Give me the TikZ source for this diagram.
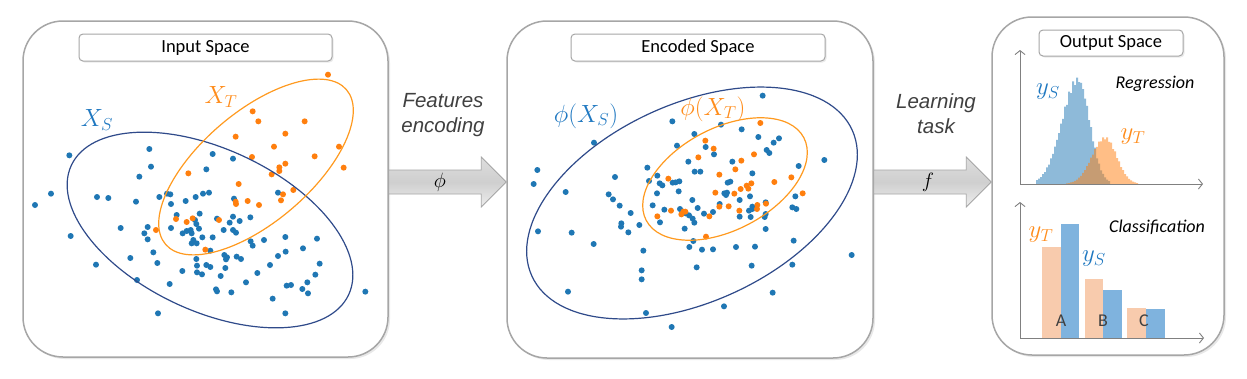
\documentclass[tikz,border=0pt]{standalone}
\usepackage{fontspec}
\setmainfont{Carlito}
\newfontfamily\arialf{Liberation Sans}
\usetikzlibrary{arrows.meta,calc}
\definecolor{dotblue}{HTML}{1F77B4}
\definecolor{dotorange}{HTML}{FF7F0E}
\definecolor{ellblue}{HTML}{2F4A8A}
\definecolor{ellorange}{HTML}{FF9A1F}
\definecolor{lblblue}{HTML}{1F78C1}
\definecolor{lblorange}{HTML}{FF8C1A}
\definecolor{barorange}{HTML}{F8CBAD}
\definecolor{barblue}{HTML}{7FB3DE}
\definecolor{panelgray}{HTML}{A6A6A6}
\definecolor{arrowfill}{HTML}{CFCFCF}
\definecolor{txtgray}{HTML}{404040}
\tikzset{
  panel/.style={draw=panelgray, line width=1.5pt, rounded corners=40pt, fill=white, inner sep=0pt},
  titlebox/.style={draw=panelgray, line width=1pt, rounded corners=4pt, fill=white, inner sep=0pt, font=\fontsize{18.5}{20}\selectfont},
  blockarrow/.style={draw=panelgray, line width=0.8pt, top color=arrowfill!70, bottom color=arrowfill!115!black, middle color=arrowfill},
  arrowlbl/.style={font=\arialf\itshape\fontsize{20.5}{25}\selectfont, text=txtgray, align=center},
  mathlbl/.style={font=\fontsize{25}{28}\selectfont},
  axisline/.style={draw=gray, line width=0.9pt, -{Straight Barb[length=4pt,width=10pt]}},
  tasklbl/.style={font=\itshape\fontsize{18}{20}\selectfont},
  barlbl/.style={font=\fontsize{18}{20}\selectfont, text=txtgray},
  ell/.style={line width=1.2pt}
}
\begin{document}
\begin{tikzpicture}[x=1pt,y=-1pt]
\useasboundingbox (0,0) rectangle (1247,378);
\fill[white] (0,0) rectangle (1247,378);
% panels (shadow + box)
\fill[black!9] (25,23) [rounded corners=40pt] rectangle (390,359);
\fill[black!9] (509,23) [rounded corners=40pt] rectangle (875,360);
\fill[black!9] (994,19) [rounded corners=40pt] rectangle (1226,357);
\node[panel, minimum width=365pt, minimum height=336pt] (p1) at (205.5,189) {};
\node[panel, minimum width=366pt, minimum height=337pt] (p2) at (690,189.5) {};
\node[panel, minimum width=232pt, minimum height=338pt] (p3) at (1108,186) {};
% titles
\fill[black!8] (80.5,35.5) [rounded corners=4pt] rectangle (333.5,62.5);
\fill[black!8] (572.5,35.5) [rounded corners=4pt] rectangle (826.5,62.5);
\fill[black!8] (1040.5,31.5) [rounded corners=4pt] rectangle (1184.5,57.5);
\node[titlebox, minimum width=253pt, minimum height=27pt] (t1) at (205.5,47.5) {Input Space};
\node[titlebox, minimum width=254pt, minimum height=27pt] (t2) at (698,47.5) {Encoded Space};
\node[titlebox, minimum width=144pt, minimum height=26pt] (t3) at (1111,43) {Output Space};
% block arrows
\coordinate (a1s) at (p1.east |- 0,182);
\coordinate (a1e) at (p2.west |- 0,182);
\coordinate (a2s) at (p2.east |- 0,182);
\coordinate (a2e) at (p3.west |- 0,182);
\draw[blockarrow] ($(a1s)+(0,-12)$) -- ($(a1e)+(-25,-12)$) -- ($(a1e)+(-25,-25)$) -- (a1e) -- ($(a1e)+(-25,25)$) -- ($(a1e)+(-25,12)$) -- ($(a1s)+(0,12)$) -- cycle;
\draw[blockarrow] ($(a2s)+(0,-12)$) -- ($(a2e)+(-25,-12)$) -- ($(a2e)+(-25,-25)$) -- (a2e) -- ($(a2e)+(-25,25)$) -- ($(a2e)+(-25,12)$) -- ($(a2s)+(0,12)$) -- cycle;
\node[font=\fontsize{20}{22}\selectfont] (phi) at (440,182) {$\phi$};
\node[font=\fontsize{20}{22}\selectfont] (fl) at (928,182) {$f$};
\node[arrowlbl] (fe) at (443,115) {Features\\encoding};
\node[arrowlbl] (lt) at (936,114) {Learning\\task};
% panel 1 dots
\begin{scope}[scale=1/3]
\foreach \x/\y in {208/466,448/447,638/462,699/476,453/500,418/530,619/508,153/581,105/615,291/591,325/594,408/605,478/591,501/581,511/583,513/612,557/603,587/591,609/581,627/578,702/596,834/578,530/645,599/641,585/660,589/672,572/690,548/700,560/693,575/700,597/686,651/656,689/668,699/650,719/663,751/652,671/690,699/690,708/698,362/684,443/681,433/700,443/718,513/684,580/720,575/730,590/730,607/712,638/712,212/708,460/757,391/774,472/789,288/794,631/752,673/765,681/772,678/778,710/770,723/777,752/724,758/737,792/720,856/711,857/755,834/768,909/745,951/716,589/777,591/797,619/795,631/801,676/804,547/813,591/817,606/823,662/828,411/840,509/852,738/847,772/819,810/795,959/791,946/824,922/847,648/868,651/874,694/877,860/857,873/855,907/867,924/880,818/896,1096/875,474/940,856/940}
  \fill[dotblue] (\x,\y) circle (9);
\foreach \x/\y in {984/224,758/334,775/364,914/364,707/410,856/401,822/440,1017/440,756/471,944/469,856/491,838/502,838/513,815/523,1031/503,565/520,716/552,880/570,849/583,843/601,707/605,743/603,708/612,777/615,528/657,560/666,578/655,657/660,468/690,616/749}
  \fill[dotorange] (\x,\y) circle (9);
\end{scope}
% panel 2 dots
\begin{scope}[xshift=500pt, scale=1/3]
\foreach \x/\y in {788/287,517/364,663/374,725/388,583/402,775/411,837/415,821/428,282/428,531/437,617/441,642/463,800/450,808/459,565/485,697/485,973/480,896/498,442/503,112/510,584/515,601/515,757/520,345/531,101/552,472/527,447/543,479/550,487/556,518/548,538/544,527/547,683/548,691/545,197/576,326/583,339/598,359/617,471/580,536/574,673/580,678/585,681/578,750/589,577/600,458/616,493/629,540/627,557/640,567/646,578/656,583/668,593/624,612/641,639/636,659/612,719/600,757/627,747/632,797/607,757/620,392/639,364/670,363/680,385/697,418/675,480/667,554/686,719/650,752/651,794/651,797/642,877/622,889/627,886/589,114/694,215/698,797/687,281/732,430/752,568/741,580/723,606/749,639/748,708/741,765/740,881/722,590/802,755/797,877/794,1055/765,425/811,425/838,204/875,818/878,438/939,672/919,515/981}
  \fill[dotblue] (\x,\y) circle (9);
\foreach \x/\y in {781/369,616/422,641/446,595/472,762/463,724/482,706/508,658/524,505/536,823/546,874/532,754/550,740/557,745/566,722/567,703/581,908/580,646/578,513/632,544/643,550/635,556/635,658/620,686/619,718/632,772/615,771/627,798/611,472/649,628/649,618/710}
  \fill[dotorange] (\x,\y) circle (9);
\end{scope}
% ellipses
\draw[ell, ellblue, rotate around={-25:(210,230)}] (210,230) ellipse [x radius=153pt, y radius=81pt];
\draw[ell, ellorange, rotate around={40.5:(256,167)}] (256,167) ellipse [x radius=119pt, y radius=55pt];
\draw[ell, ellblue, rotate around={24.5:(692,203)}] (692,203) ellipse [x radius=176pt, y radius=99pt];
\draw[ell, ellorange, rotate around={27.7:(725,179)}] (725,179) ellipse [x radius=89pt, y radius=51pt];
% labels
\node[mathlbl, text=lblblue] (xs) at (97,120) {$X_S$};
\node[mathlbl, text=lblorange] (xt) at (221,97) {$X_T$};
\node[mathlbl, text=lblblue] (pxs) at (586,116) {$\phi(X_S)$};
\node[mathlbl, text=lblorange] (pxt) at (713,109) {$\phi(X_T)$};
% output space: regression
\fill[dotblue, opacity=.5] (1036,184) -- plot[const plot, domain=1036:1110, samples=38] (\x,{184-104*exp(-((\x-1077)^2)/(2*((\x<1077)?16:11.5)^2))*(1+0.04*sin((\x-1030)*97))}) -- (1110,184) -- cycle;
\fill[dotorange, opacity=.5] (1066,184) -- plot[const plot, domain=1066:1138, samples=37] (\x,{184-46*exp(-((\x-1104)^2)/(2*((\x<1104)?13:11.5)^2))*(1+0.04*sin((\x-1060)*89))}) -- (1138,184) -- cycle;
\coordinate (o1) at (1020,184);
\coordinate (x1) at (1203,184);
\coordinate (y1) at (1020,50);
\draw[axisline] (o1) -- (x1);
\draw[axisline] (o1) -- (y1);
\node[tasklbl] (reg) at (1155,84) {Regression};
\node[mathlbl, text=lblblue] (ys1) at (1048,92) {$y_S$};
\node[mathlbl, text=lblorange] (yt1) at (1133,137) {$y_T$};
% classification
\fill[barorange] (1042,247) rectangle (1061,338);
\fill[barblue] (1061,224) rectangle (1079,338);
\fill[barorange] (1085,279) rectangle (1103,338);
\fill[barblue] (1103,290) rectangle (1122,338);
\fill[barorange] (1127,308) rectangle (1146,338);
\fill[barblue] (1146,309) rectangle (1165,338);
\coordinate (o2) at (1020,338);
\coordinate (x2) at (1204,338);
\coordinate (y2) at (1020,202);
\draw[axisline] (o2) -- (x2);
\draw[axisline] (o2) -- (y2);
\node[barlbl] (la) at (1061,321) {A};
\node[barlbl] (lb) at (1103,321) {B};
\node[barlbl] (lc) at (1144,321) {C};
\node[tasklbl] (cls) at (1157,227) {Classification};
\node[mathlbl, text=lblorange] (yt2) at (1041,235) {$y_T$};
\node[mathlbl, text=lblblue] (ys2) at (1094,259) {$y_S$};
\end{tikzpicture}
\end{document}
